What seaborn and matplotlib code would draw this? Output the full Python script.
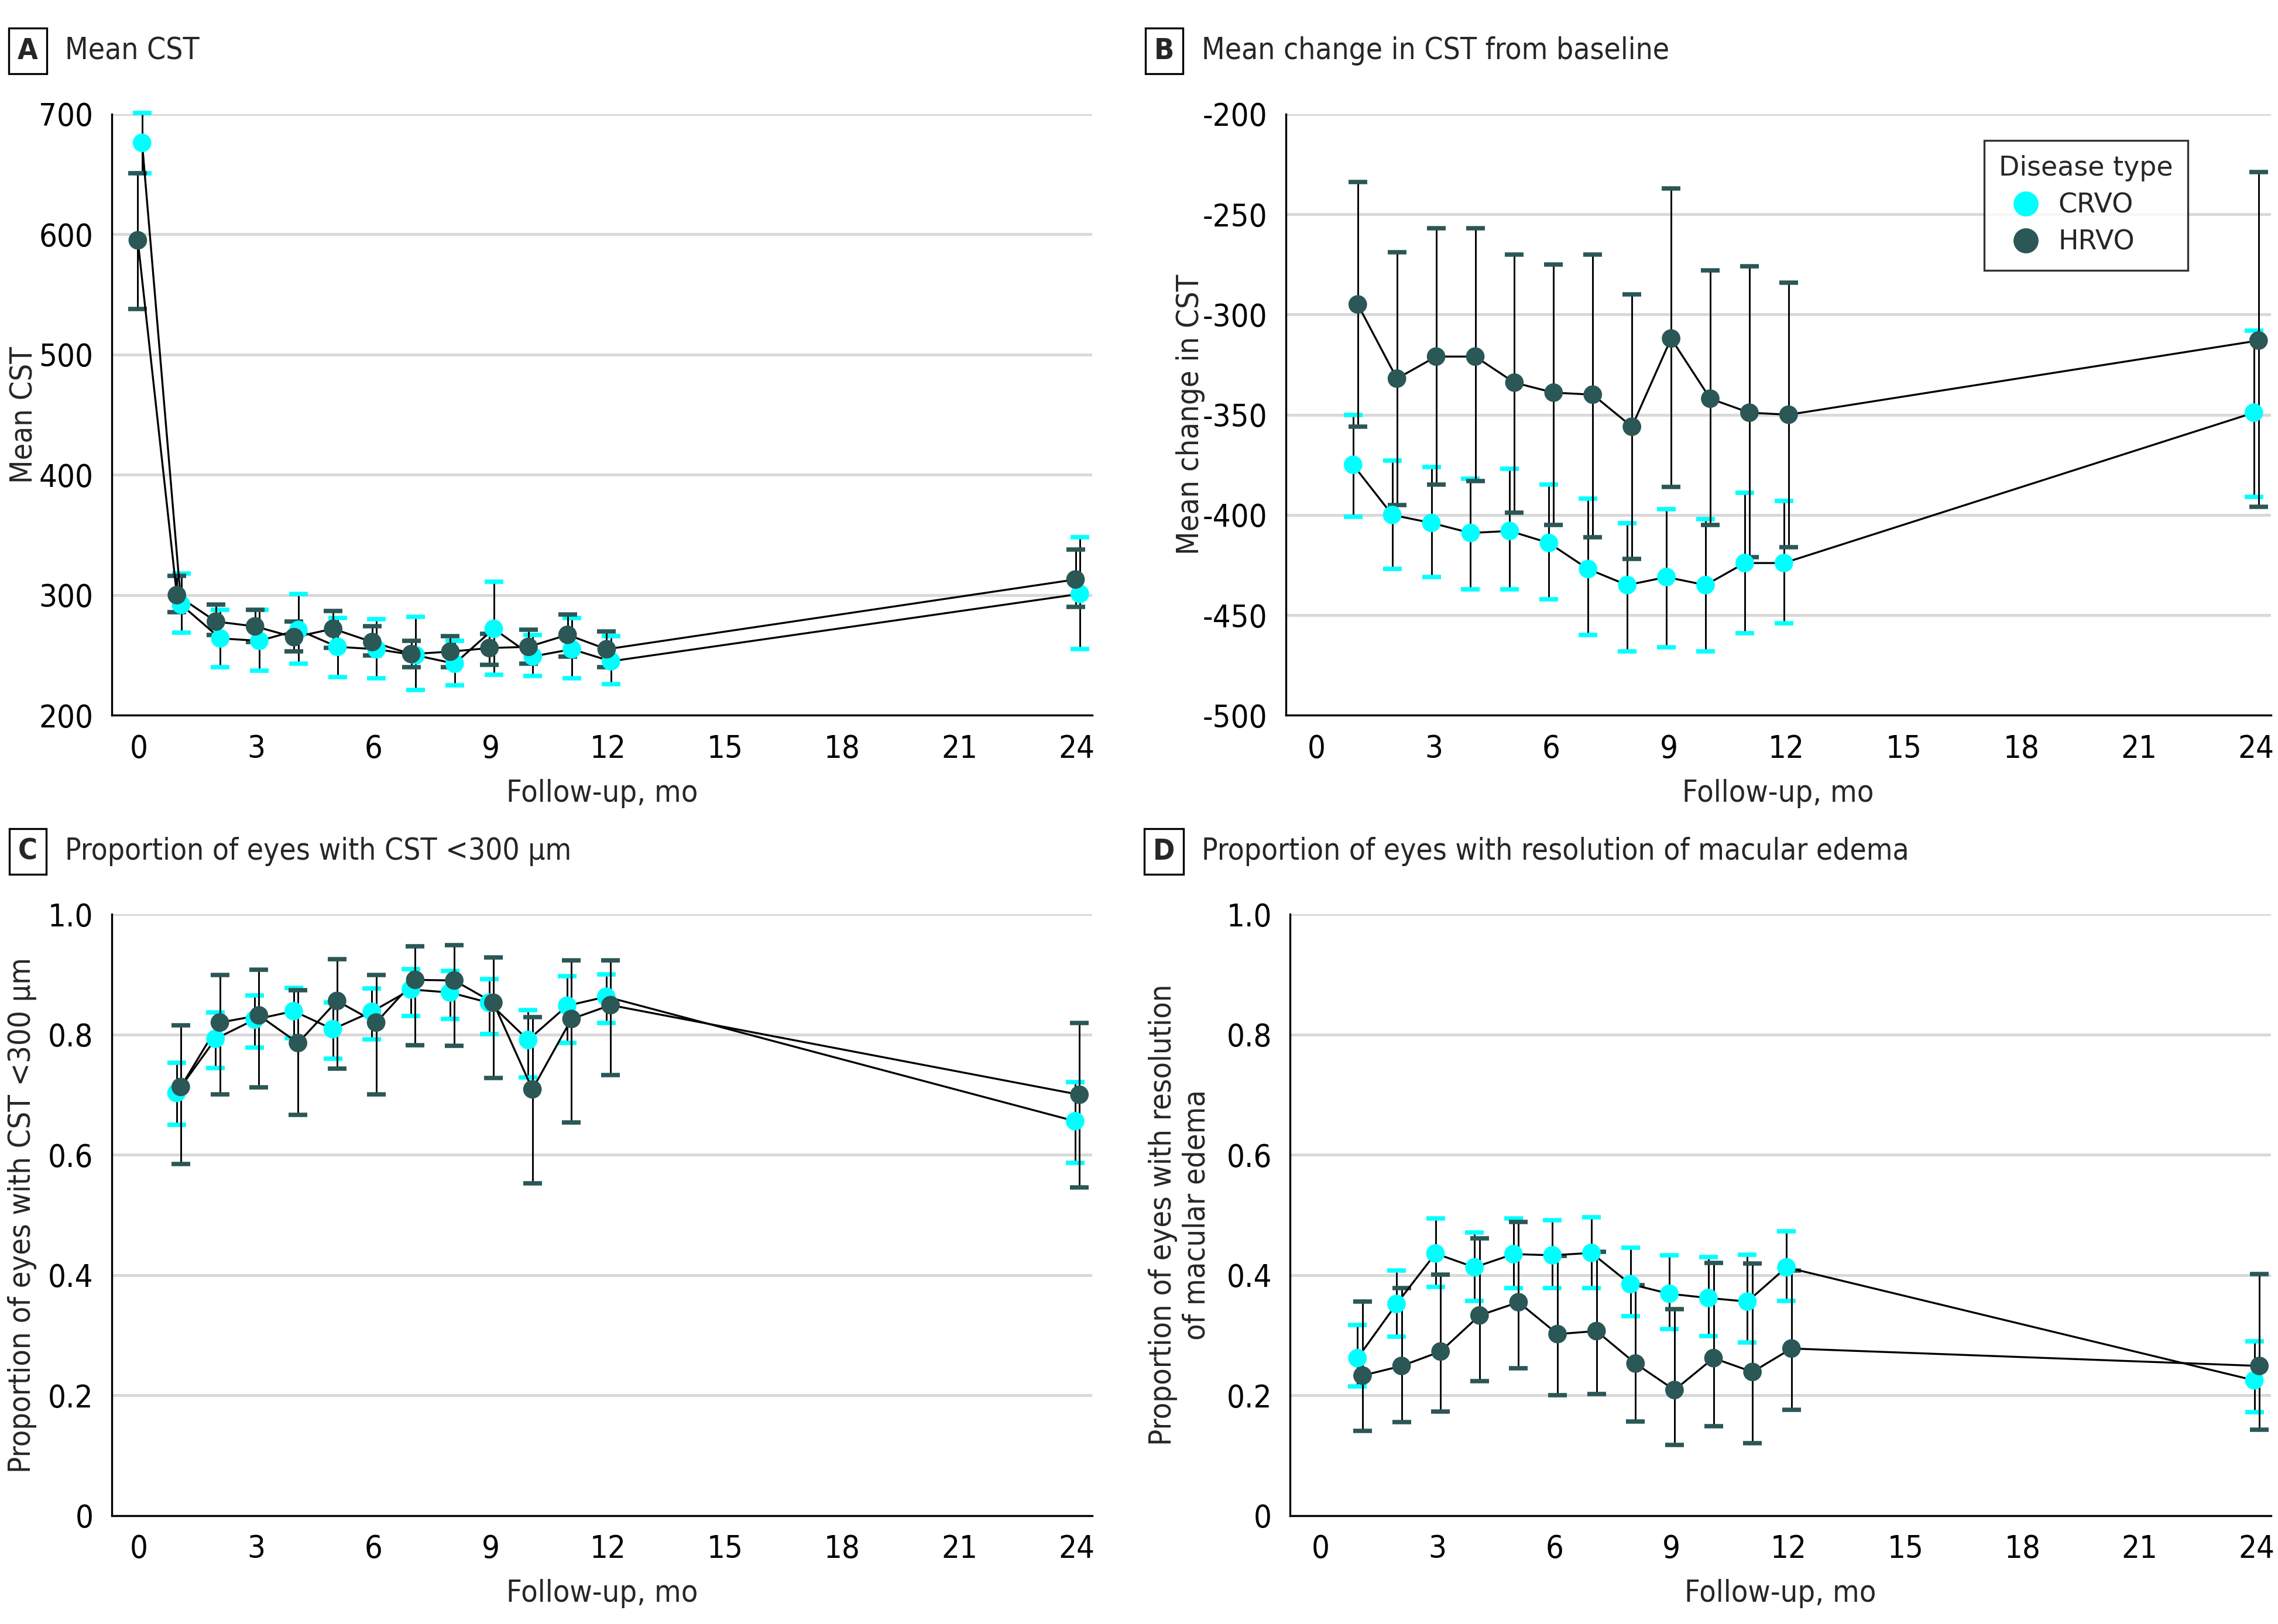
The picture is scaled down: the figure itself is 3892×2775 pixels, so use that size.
import numpy as np
import pandas as pd
import matplotlib
matplotlib.use("Agg")
import matplotlib.pyplot as plt
import seaborn as sns

# ---- data ----
months_a = [0, 1, 2, 3, 4, 5, 6, 7, 8, 9, 10, 11, 12, 24]
months = [1, 2, 3, 4, 5, 6, 7, 8, 9, 10, 11, 12, 24]

# A: mean CST
a_crvo = [676, 292, 264, 262, 271, 257, 255, 250, 243, 272, 249, 255, 245, 301]
a_crvo_lo = [651, 269, 240, 237, 243, 232, 231, 221, 225, 234, 233, 231, 226, 255]
a_crvo_hi = [701, 318, 288, 288, 301, 281, 280, 282, 262, 311, 267, 281, 266, 348]
a_hrvo = [595, 300, 278, 274, 265, 272, 261, 251, 253, 256, 257, 267, 255, 313]
a_hrvo_lo = [538, 286, 267, 261, 253, 256, 250, 240, 240, 242, 243, 249, 240, 290]
a_hrvo_hi = [651, 316, 292, 288, 278, 287, 274, 262, 266, 268, 271, 284, 270, 338]

# B: mean change in CST from baseline
b_crvo = [-375, -400, -404, -409, -408, -414, -427, -435, -431, -435, -424, -424, -349]
b_crvo_lo = [-401, -427, -431, -437, -437, -442, -460, -468, -466, -468, -459, -454, -391]
b_crvo_hi = [-350, -373, -376, -382, -377, -385, -392, -404, -397, -402, -389, -393, -308]
b_hrvo = [-295, -332, -321, -321, -334, -339, -340, -356, -312, -342, -349, -350, -313]
b_hrvo_lo = [-356, -395, -385, -383, -399, -405, -411, -422, -386, -405, -421, -416, -396]
b_hrvo_hi = [-234, -269, -257, -257, -270, -275, -270, -290, -237, -278, -276, -284, -229]

# C: proportion of eyes with CST <300 µm
c_crvo = [0.703, 0.793, 0.825, 0.839, 0.809, 0.838, 0.875, 0.870, 0.853, 0.791, 0.848, 0.863, 0.656]
c_crvo_lo = [0.650, 0.744, 0.778, 0.794, 0.760, 0.792, 0.831, 0.826, 0.801, 0.729, 0.786, 0.819, 0.587]
c_crvo_hi = [0.753, 0.837, 0.865, 0.878, 0.853, 0.877, 0.909, 0.906, 0.892, 0.841, 0.897, 0.900, 0.721]
c_hrvo = [0.713, 0.820, 0.832, 0.786, 0.856, 0.820, 0.891, 0.890, 0.853, 0.709, 0.826, 0.849, 0.700]
c_hrvo_lo = [0.585, 0.701, 0.712, 0.667, 0.743, 0.701, 0.782, 0.781, 0.728, 0.553, 0.654, 0.733, 0.546]
c_hrvo_hi = [0.815, 0.899, 0.908, 0.874, 0.925, 0.899, 0.947, 0.949, 0.928, 0.829, 0.923, 0.923, 0.819]

# D: proportion of eyes with resolution of macular edema
d_crvo = [0.262, 0.352, 0.436, 0.413, 0.435, 0.433, 0.437, 0.385, 0.369, 0.362, 0.356, 0.413, 0.225]
d_crvo_lo = [0.215, 0.298, 0.380, 0.357, 0.378, 0.378, 0.378, 0.332, 0.310, 0.299, 0.288, 0.357, 0.172]
d_crvo_hi = [0.317, 0.408, 0.494, 0.471, 0.494, 0.491, 0.496, 0.446, 0.433, 0.430, 0.434, 0.473, 0.290]
d_hrvo = [0.233, 0.249, 0.273, 0.333, 0.355, 0.302, 0.307, 0.253, 0.209, 0.262, 0.239, 0.278, 0.249]
d_hrvo_lo = [0.141, 0.156, 0.173, 0.224, 0.245, 0.200, 0.202, 0.157, 0.118, 0.149, 0.121, 0.176, 0.143]
d_hrvo_hi = [0.356, 0.378, 0.401, 0.461, 0.488, 0.432, 0.439, 0.383, 0.343, 0.420, 0.419, 0.408, 0.402]

x_ticks = [0, 3, 6, 9, 12, 15, 18, 21, 24]

# ---- style ----
sns.set_style("white")
plt.rcParams['font.family'] = ['DejaVu Sans']
plt.rcParams['font.stretch'] = 'condensed'
plt.rcParams['axes.unicode_minus'] = False

palette = {"CRVO": "#00FFFF", "HRVO": "#2B5756"}
TICK_FS = 13
LABEL_FS = 12.5
TITLE_FS = 12.3


def make_df(m, crvo, crvo_lo, crvo_hi, hrvo, hrvo_lo, hrvo_hi, off_c, off_h):
    parts = []
    for name, mean, lo, hi, off in [("CRVO", crvo, crvo_lo, crvo_hi, off_c),
                                    ("HRVO", hrvo, hrvo_lo, hrvo_hi, off_h)]:
        parts.append(pd.DataFrame({"month": m, "x": np.array(m) + off,
                                   "mean": mean, "lo": lo, "hi": hi, "type": name}))
    return pd.concat(parts, ignore_index=True)


def draw_panel(ax, df, ylim, yticks, yticklabels, ylabel, ylab_x, xlim, legend=False):
    for name, g in df.groupby("type"):
        eb = ax.errorbar(g["x"], g["mean"], yerr=[g["mean"] - g["lo"], g["hi"] - g["mean"]],
                         fmt="none", ecolor="black", elinewidth=0.7, capsize=3.8,
                         capthick=1.8, zorder=2)
        for cap in eb[1]:
            cap.set_markeredgecolor(palette[name])
            cap.set_markerfacecolor(palette[name])
            cap.set_clip_on(False)
        for col in eb[2]:
            col.set_clip_on(False)
    sns.lineplot(data=df, x="x", y="mean", units="type", estimator=None, color="black",
                 lw=0.8, ax=ax, zorder=3, legend=False)
    sns.scatterplot(data=df, x="x", y="mean", hue="type", palette=palette, s=58,
                    edgecolor="none", linewidth=0, ax=ax, zorder=4, legend=legend,
                    clip_on=False)
    ax.set_xlim(*xlim)
    ax.set_ylim(*ylim)
    ax.set_xticks(x_ticks)
    ax.set_yticks(yticks)
    ax.set_yticklabels(yticklabels)
    ax.grid(axis="y", color="#d9d9d9", lw=1.2, zorder=0)
    ax.set_axisbelow(True)
    sns.despine(ax=ax)
    for s in ["left", "bottom"]:
        ax.spines[s].set_color("black")
        ax.spines[s].set_linewidth(0.8)
    ax.tick_params(axis="both", direction="out", length=4.5, width=0.8, colors="black",
                   labelsize=TICK_FS, pad=3)
    ax.set_xlabel("Follow-up, mo", fontsize=LABEL_FS, labelpad=6)
    ax.set_ylabel(ylabel, fontsize=LABEL_FS)
    ax.yaxis.set_label_coords(ylab_x, 0.5)


fig = plt.figure(figsize=(3892 / 300, 2775 / 300), dpi=300)
ax_a = fig.add_axes([0.049, 0.5595, 0.4305, 0.3703])
ax_b = fig.add_axes([0.5644, 0.5595, 0.4324, 0.3703])
ax_c = fig.add_axes([0.049, 0.0667, 0.4305, 0.3703])
ax_d = fig.add_axes([0.5663, 0.0667, 0.4305, 0.3703])

df_a = make_df(months_a, a_crvo, a_crvo_lo, a_crvo_hi, a_hrvo, a_hrvo_lo, a_hrvo_hi, 0.08, -0.03)
df_b = make_df(months, b_crvo, b_crvo_lo, b_crvo_hi, b_hrvo, b_hrvo_lo, b_hrvo_hi, -0.06, 0.06)
df_c = make_df(months, c_crvo, c_crvo_lo, c_crvo_hi, c_hrvo, c_hrvo_lo, c_hrvo_hi, -0.04, 0.07)
df_d = make_df(months, d_crvo, d_crvo_lo, d_crvo_hi, d_hrvo, d_hrvo_lo, d_hrvo_hi, -0.05, 0.08)

prop_ticks = [0, 0.2, 0.4, 0.6, 0.8, 1.0]
prop_labels = ["0", "0.2", "0.4", "0.6", "0.8", "1.0"]

draw_panel(ax_a, df_a, (200, 700), [200, 300, 400, 500, 600, 700],
           ["200", "300", "400", "500", "600", "700"], "Mean CST", -0.074, (-0.7, 24.4))
draw_panel(ax_b, df_b, (-500, -200), [-500, -450, -400, -350, -300, -250, -200],
           ["-500", "-450", "-400", "-350", "-300", "-250", "-200"], "Mean change in CST",
           -0.082, (-0.78, 24.37), legend=True)
draw_panel(ax_c, df_c, (0, 1), prop_ticks, prop_labels,
           "Proportion of eyes with CST <300 µm", -0.076, (-0.7, 24.4))
draw_panel(ax_d, df_d, (0, 1), prop_ticks, prop_labels,
           "Proportion of eyes with resolution\nof macular edema", -0.08, (-0.78, 24.37))

# legend in panel B
handles, labels = ax_b.get_legend_handles_labels()
leg = ax_b.legend(handles, labels, title="Disease type", loc="upper right",
                  bbox_to_anchor=(0.916, 0.956), borderaxespad=0, frameon=True,
                  fancybox=False, edgecolor="black", handletextpad=0.2, borderpad=0.55,
                  markerscale=1.35, labelspacing=0.4,
                  prop={"family": "DejaVu Sans", "stretch": "normal", "size": 11},
                  title_fontproperties={"family": "DejaVu Sans", "stretch": "normal", "size": 11})
leg.get_frame().set_linewidth(0.8)
leg._legend_box.align = "left"

# panel titles
titles = [("A", "Mean CST", 0.0121, 0.9685),
          ("B", "Mean change in CST from baseline", 0.511, 0.9685),
          ("C", "Proportion of eyes with CST <300 µm", 0.0121, 0.4757),
          ("D", "Proportion of eyes with resolution of macular edema", 0.511, 0.4757)]
for letter, text, x, y in titles:
    fig.text(x, y, letter, fontsize=12, fontweight="bold", ha="center", va="center",
             bbox=dict(boxstyle="square,pad=0.3", fc="white", ec="black", lw=0.8))
    fig.text(x + 0.0165, y, text, fontsize=TITLE_FS, ha="left", va="center")

fig.savefig("out.png", dpi=300)
